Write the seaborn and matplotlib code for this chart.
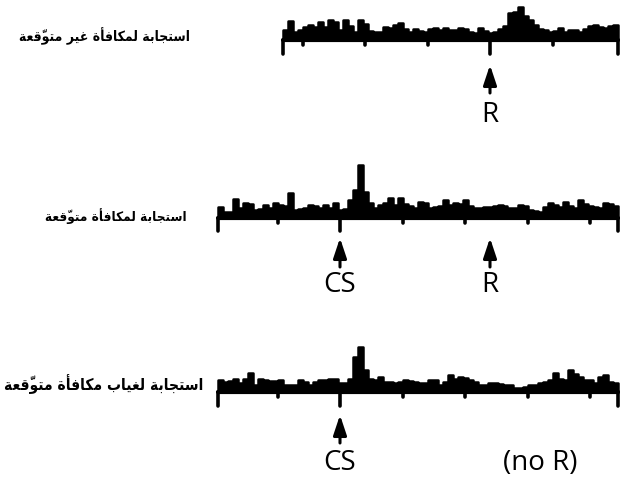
import numpy as np
import pandas as pd
import matplotlib
matplotlib.use("Agg")
import matplotlib.pyplot as plt
import seaborn as sns

# ---- data -----------------------------------------------------------------
# Peri-event firing histograms, 40 ms bins; time in s relative to the CS.
bin_width = 0.04
cs_time = 0.0
reward_time = 1.2

# unexpected reward (no CS): histogram starts at -0.46 s
start_unexpected = -0.46
rate_unexpected = [
    10, 19, 8, 10, 13, 15, 13, 18, 13, 20, 18, 10, 20, 14, 8, 20, 16, 9, 8, 8,
    13, 12, 15, 17, 11, 8, 11, 9, 8, 11, 12, 10, 12, 10, 10, 12, 11, 8, 7, 12,
    9, 7, 8, 11, 14, 27, 28, 33, 24, 20, 15, 11, 10, 8, 9, 12, 8, 10, 10, 8,
    11, 14, 15, 13, 12, 14, 15,
]

# reward predicted by the CS
start_predicted = -0.98
rate_predicted = [
    11, 6, 6, 19, 10, 15, 14, 8, 9, 13, 10, 15, 13, 12, 25, 8, 9, 10, 13, 12,
    10, 13, 10, 15, 8, 9, 18, 28, 53, 26, 15, 10, 13, 15, 20, 13, 20, 14, 12, 10,
    16, 15, 10, 11, 12, 18, 13, 15, 14, 18, 12, 10, 10, 11, 11, 12, 13, 12, 10, 10,
    13, 12, 8, 7, 6, 11, 15, 13, 11, 16, 12, 10, 18, 14, 12, 11, 10, 15, 14, 12,
]

# predicted reward omitted
start_omitted = -0.98
rate_omitted = [
    12, 10, 11, 13, 9, 13, 19, 7, 13, 12, 11, 11, 12, 7, 7, 7, 12, 10, 7, 10,
    12, 12, 13, 13, 9, 9, 13, 35, 45, 22, 13, 12, 15, 10, 10, 9, 10, 12, 11, 10,
    9, 9, 12, 12, 7, 10, 17, 13, 15, 14, 12, 10, 7, 7, 9, 9, 8, 7, 7, 4,
    4, 5, 7, 7, 9, 10, 12, 19, 13, 12, 22, 18, 15, 12, 12, 9, 15, 17, 10, 9,
]

labels = [
    "استجابة لمكافأة غير متوقّعة",
    "استجابة لمكافأة متوقّعة",
    "استجابة لغياب مكافأة متوقّعة",
]

# ---- simple Arabic shaping for matplotlib (no complex text layout) ---------
FORMS = {  # isolated, final, initial, medial
    "ا": ("\uFE8D", "\uFE8E", None, None),
    "أ": ("\uFE83", "\uFE84", None, None),
    "ب": ("\uFE8F", "\uFE90", "\uFE91", "\uFE92"),
    "ة": ("\uFE93", "\uFE94", None, None),
    "ت": ("\uFE95", "\uFE96", "\uFE97", "\uFE98"),
    "ج": ("\uFE9D", "\uFE9E", "\uFE9F", "\uFEA0"),
    "ر": ("\uFEAD", "\uFEAE", None, None),
    "س": ("\uFEB1", "\uFEB2", "\uFEB3", "\uFEB4"),
    "ع": ("\uFEC9", "\uFECA", "\uFECB", "\uFECC"),
    "غ": ("\uFECD", "\uFECE", "\uFECF", "\uFED0"),
    "ف": ("\uFED1", "\uFED2", "\uFED3", "\uFED4"),
    "ق": ("\uFED5", "\uFED6", "\uFED7", "\uFED8"),
    "ك": ("\uFED9", "\uFEDA", "\uFEDB", "\uFEDC"),
    "ل": ("\uFEDD", "\uFEDE", "\uFEDF", "\uFEE0"),
    "م": ("\uFEE1", "\uFEE2", "\uFEE3", "\uFEE4"),
    "و": ("\uFEED", "\uFEEE", None, None),
    "ي": ("\uFEF1", "\uFEF2", "\uFEF3", "\uFEF4"),
}
MARKS = {"\u0651", "\u064E", "\u064F", "\u0650"}


def shape_rtl(text):
    # group base letters with their combining marks
    clusters = []
    for ch in text:
        if ch in MARKS and clusters:
            clusters[-1][1].append(ch)
        else:
            clusters.append([ch, []])
    out = []
    for i, (ch, marks) in enumerate(clusters):
        if ch not in FORMS:
            out.append(ch + "".join(marks))
            continue
        iso, fin, ini, med = FORMS[ch]
        prev = clusters[i - 1][0] if i > 0 else None
        nxt = clusters[i + 1][0] if i + 1 < len(clusters) else None
        join_prev = prev in FORMS and FORMS[prev][2] is not None
        join_next = ini is not None and nxt in FORMS
        if join_prev and join_next:
            g = med
        elif join_prev:
            g = fin
        elif join_next:
            g = ini
        else:
            g = iso
        # zero-width marks follow their letter so they sit over it
        out.append(g + "".join(marks))
    return "".join(reversed(out))


# ---- figure -----------------------------------------------------------------
sns.set_theme(style="white")
plt.rcParams["font.family"] = ["Open Sans", "DejaVu Sans"]

W, H = 620, 480
PX_PER_S = 125.0
X0_PX = 340.0  # CS position across the page
fig = plt.figure(figsize=(W / 100, H / 100), dpi=100)
fig.patch.set_facecolor("white")

panels = [
    # top, bottom, zero line (pixel rows of each strip)
    dict(rows=(0, 130, 40), start=start_unexpected, rate=rate_unexpected,
         tick_ref=reward_time, events=[(reward_time, "R")], label=labels[0],
         label_right=190, label_y=4, label_size=10, tick_len=14,
         arrow=(-25, -53), text_y=-82),
    dict(rows=(140, 305, 218), start=start_predicted, rate=rate_predicted,
         tick_ref=cs_time, events=[(cs_time, "CS"), (reward_time, "R")],
         label=labels[1], label_right=187, label_y=2, label_size=9.7,
         tick_len=13, arrow=(-20, -49), text_y=-74),
    dict(rows=(310, 480, 392), start=start_omitted, rate=rate_omitted,
         tick_ref=cs_time, events=[(cs_time, "CS")], label=labels[2],
         label_right=203, label_y=8, label_size=11.2, tick_len=14,
         arrow=(-23, -51), text_y=-78, extra="(no R)"),
]

for p in panels:
    top, bottom, zero = p["rows"]
    ax = fig.add_axes([0, 1 - bottom / H, 1, (bottom - top) / H])
    ax.set_xlim(-X0_PX / PX_PER_S, (W - X0_PX) / PX_PER_S)
    ax.set_ylim(-(bottom - zero), zero - top)

    rate = np.asarray(p["rate"], dtype=float)
    n = len(rate)
    t0 = p["start"]
    t1 = t0 + bin_width * n
    df = pd.DataFrame({
        "t": t0 + bin_width * (np.arange(n) + 0.5),
        "rate": rate,
    })
    sns.histplot(data=df, x="t", weights="rate", binwidth=bin_width,
                 binrange=(t0, t1), element="step", fill=True, color="black",
                 alpha=1, linewidth=1.8, edgecolor="black", ax=ax)
    for coll in ax.collections:
        coll.set_joinstyle("round")
    ax.axis("off")

    ax.hlines(0, t0, t1, color="black", lw=3, capstyle="round")

    # time markers every 0.5 s, aligned to the reference event
    ref = p["tick_ref"]
    small = np.arange(ref - 3.0, ref + 3.0, 0.5)
    small = small[(small > t0 + 0.1) & (small < t1 - 0.1)]
    ev_times = [reward_time] if ref == reward_time else [cs_time]
    small = [s for s in small if all(abs(s - e) > 1e-6 for e in ev_times)]
    ax.vlines(small, -5, 0, color="black", lw=2.6, capstyle="round")
    ax.vlines([t0, t1] + ev_times, -p["tick_len"], 0, color="black", lw=2.6,
              capstyle="round")

    # event arrows and names
    tip, tail = p["arrow"]
    for t, name in p["events"]:
        ax.annotate("", xy=(t, tip), xytext=(t, tail),
                    arrowprops=dict(arrowstyle="-|>,head_length=12,head_width=4",
                                    mutation_scale=1, lw=2.2, color="black",
                                    shrinkA=0, shrinkB=0))
        ax.text(t, p["text_y"], name, ha="center", va="baseline",
                fontsize=20, color="black", family=["Open Sans", "DejaVu Sans"])
    if "extra" in p:
        ax.text(1.6, p["text_y"], p["extra"], ha="center", va="baseline",
                fontsize=20, color="black", family=["Open Sans", "DejaVu Sans"])

    # condition label on the left
    ax.text((p["label_right"] - X0_PX) / PX_PER_S, p["label_y"],
            shape_rtl(p["label"]), ha="right", va="center",
            fontsize=p["label_size"], fontweight="bold", fontstretch="condensed",
            color="black", family=["DejaVu Sans"])

fig.savefig("out.png", dpi=100, facecolor="white")
